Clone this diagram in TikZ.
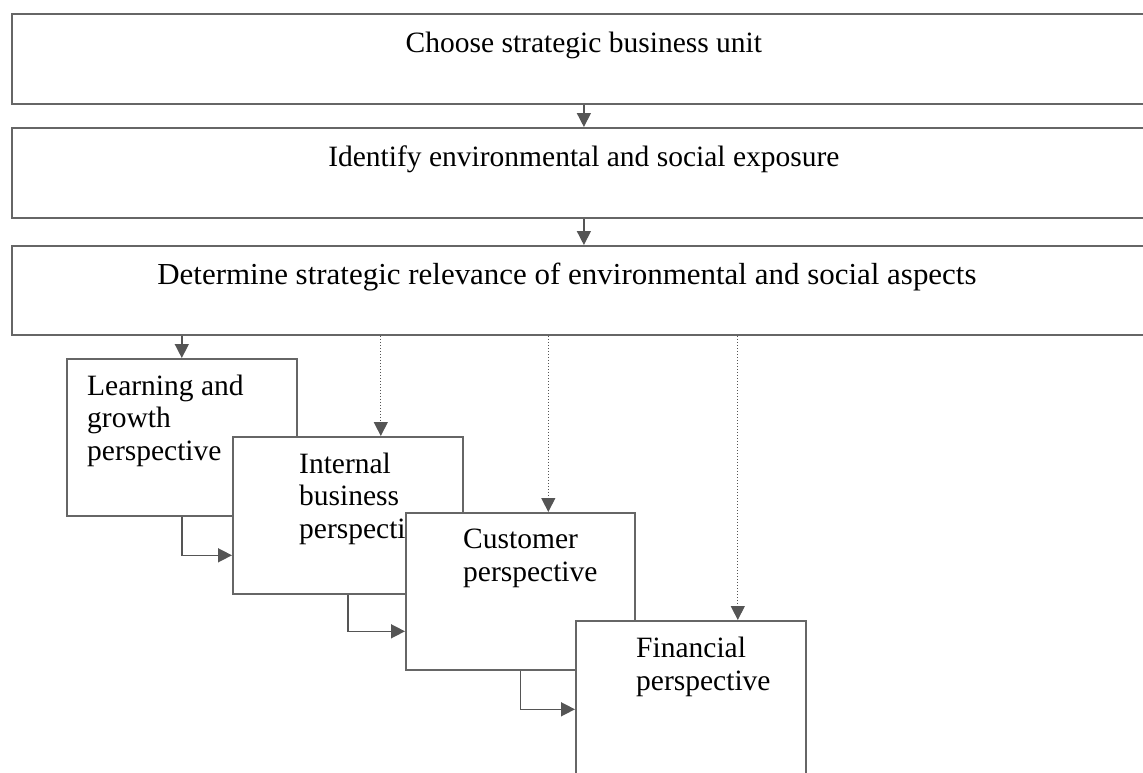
\documentclass[tikz,border=0pt]{standalone}
\usepackage{fontspec}
\setmainfont{Liberation Serif}
\usetikzlibrary{arrows.meta,positioning}
\definecolor{Frame}{HTML}{666666}
\definecolor{Link}{HTML}{555555}

\begin{document}
\begin{tikzpicture}[x=1pt,y=-1pt,font=\fontsize{29.5}{32.5}\selectfont,>={Triangle[length=14pt,width=14pt]},
    stage/.style={draw=Frame,line width=1.8pt,fill=white,anchor=north west,inner sep=0pt,minimum width=1144pt,minimum height=90pt},
    view/.style={draw=Frame,line width=1.6pt,fill=white,anchor=north west,inner sep=0pt,minimum width=230pt,minimum height=157pt},
    caption/.style={inner sep=0pt,align=left,anchor=base west},
    flow/.style={draw=Link,line width=1.5pt,->},
    hint/.style={draw=Link,line width=1pt,dotted,->}]
    \useasboundingbox (0,0) rectangle (1143,772);
    \clip (0,0) rectangle (1143,772);
    % the three steps across the page
    \node[stage] (unit) at (11,13) {};
    \node[caption,anchor=base] (unittxt) at ([yshift=-39pt]unit.north) {Choose strategic business unit};
    \node[stage] (exposure) at (11,127) {};
    \node[caption,anchor=base] (exposuretxt) at ([yshift=-39pt]exposure.north) {Identify environmental and social exposure};
    \node[stage,minimum height=89pt] (relevance) at (11,245) {};
    \node[caption,anchor=base,font=\fontsize{30.5}{33}\selectfont,xscale=1.015] (relevancetxt) at ([shift={(-17,39)}]relevance.north) {Determine strategic relevance of environmental and social aspects};
    \draw[flow] (unit) -- (exposure);
    \draw[flow] (exposure) -- (relevance);
    % the four perspectives, each over the one before
    \node[view] (learn) at (66,358) {};
    \node[caption] (learntxt) at ([shift={(21,102)}]learn.north west) {Learning and\\growth\\perspective};
    \draw[flow] (learn.north |- relevance.south) -- (learn.north);
    \node[view] (internal) at (232,436) {};
    \node[caption] (internaltxt) at ([shift={(67,102)}]internal.north west) {Internal\\business\\perspective};
    \draw[flow] (learn.south) |- ([yshift=-40pt]internal.west);
    \node[view,minimum width=229pt] (customer) at (405,512) {};
    \node[caption] (customertxt) at ([shift={(58,69)}]customer.north west) {Customer\\perspective};
    \draw[flow] (internal.south) |- ([yshift=-40pt]customer.west);
    \node[view] (financial) at (575,620) {};
    \node[caption] (financialtxt) at ([shift={(61,70)}]financial.north west) {Financial\\perspective};
    \draw[flow] (customer.south) |- ([yshift=-10pt]financial.west);
    % dotted links from the relevance step
    \coordinate (tointernal) at ([xshift=33pt]internal.north);
    \coordinate (tocustomer) at ([xshift=28pt]customer.north);
    \coordinate (tofinancial) at ([xshift=47pt]financial.north);
    \draw[hint] (tointernal |- relevance.south) -- (tointernal);
    \draw[hint] (tocustomer |- relevance.south) -- (tocustomer);
    \draw[hint] (tofinancial |- relevance.south) -- (tofinancial);
\end{tikzpicture}
\end{document}
